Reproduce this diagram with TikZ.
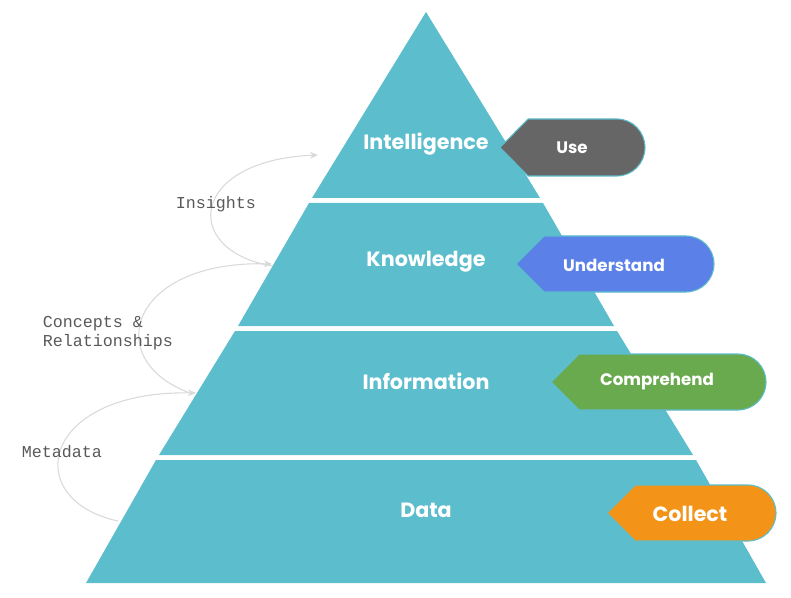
\documentclass[tikz,border=0pt]{standalone}
\usepackage{fontspec}
\setmainfont{Poppins}
\setmonofont{Liberation Mono}
\usetikzlibrary{arrows.meta}
\definecolor{pyr}{HTML}{5CBDCC}
\definecolor{usec}{HTML}{666666}
\definecolor{undc}{HTML}{5B80E8}
\definecolor{comc}{HTML}{6AAA4F}
\definecolor{colc}{HTML}{F39418}
\definecolor{curve}{HTML}{D9D9D9}
\tikzset{
  layer/.style={fill=pyr,draw=none},
  lname/.style={text=white,font=\bfseries\fontsize{15.5}{18}\selectfont},
  tagtext/.style={text=white,font=\bfseries\fontsize{12.5}{15}\selectfont},
  side/.style={text=black!65,font=\ttfamily\fontsize{12.5}{14}\selectfont,align=left},
  link/.style={curve,line width=0.8pt,-{Stealth[length=6pt,width=5pt]}},
}
% tag: left point x, right x, top y, bottom y, colour
\newcommand\tagshape[5]{%
  \fill[#5,draw=pyr,line width=0.8pt] (#1,{(#3+#4)/2}) -- (#1+28,#3) -- (#2-28,#3)
    arc[start angle=-90,end angle=90,x radius=28,y radius={(#4-#3)/2}] -- (#1+28,#4) -- cycle;}
\begin{document}
\begin{tikzpicture}[x=0.75pt,y=-0.75pt]
  \useasboundingbox (0,0) rectangle (791,598);
  % pyramid layers
  \fill[layer] (426,12) -- (540,198) -- (312,198) -- cycle;
  \fill[layer] (309,203) -- (543,203) -- (614,326) -- (238,326) -- cycle;
  \fill[layer] (235,331) -- (617,331) -- (693,455) -- (159,455) -- cycle;
  \fill[layer] (156,460) -- (696,460) -- (766,583) -- (86,583) -- cycle;
  % layer names
  \node[lname] (intel) at (426,144) {Intelligence};
  \node[lname] (know) at (426,262) {Knowledge};
  \node[lname] (info) at (426,381) {Information};
  \node[lname] (data) at (426,510) {Data};
  % tags
  \tagshape{500}{645}{119}{176}{usec}
  \tagshape{516}{714}{236}{292}{undc}
  \tagshape{551}{766}{354}{410}{comc}
  \tagshape{607}{776}{485}{541}{colc}
  \node[tagtext] (use) at (572,148) {Use};
  \node[tagtext] (underst) at (614,265) {Understand};
  \node[tagtext] (compr) at (657,382) {Comprehend};
  \node[tagtext,font=\bfseries\fontsize{15.5}{18}\selectfont] (collect) at (690,514) {Collect};
  % side links
  \coordinate (m0) at (118,521); \coordinate (m1) at (196,393);
  \coordinate (c0) at (190,393); \coordinate (c1) at (272,264);
  \coordinate (i0) at (272,266); \coordinate (i1) at (318,155);
  \draw[link] (m0) .. controls (20,500) and (40,390) .. (m1);
  \draw[link] (c0) .. controls (100,360) and (130,260) .. (c1);
  \draw[link] (i0) .. controls (180,250) and (190,160) .. (i1);
  \node[side] (meta) at (62,452) {Metadata};
  \node[side] (conc) at (108,333) {Concepts \&\\Relationships};
  \node[side] (ins) at (216,204) {Insights};
\end{tikzpicture}
\end{document}
